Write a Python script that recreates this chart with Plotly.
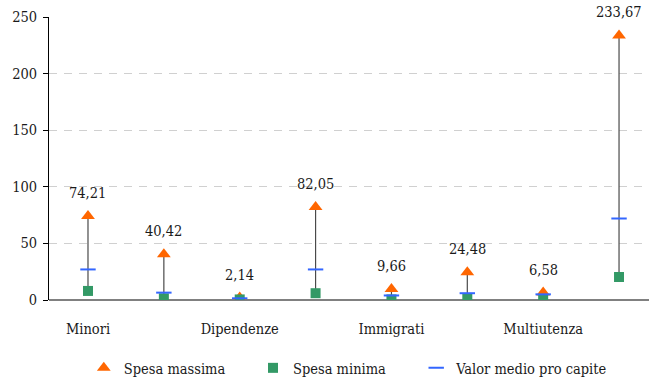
import plotly.graph_objects as go

# Per-capita spending by area (euro)
categories = ["Minori", "Disabili", "Dipendenze", "Anziani", "Immigrati",
              "Povertà", "Multiutenza", "Totale"]
spesa_massima = [74.21, 40.42, 2.14, 82.05, 9.66, 24.48, 6.58, 233.67]
spesa_minima = [8.0, 1.5, 0.5, 6.0, 0.5, 1.0, 0.5, 20.3]
valor_medio = [27.0, 6.5, 1.5, 27.0, 4.0, 6.0, 5.0, 72.0]
y_ticks = [0, 50, 100, 150, 200, 250]
shown_labels = ["Minori", "Dipendenze", "Immigrati", "Multiutenza"]

FONT = "DejaVu Serif Condensed"
FS = 14.5
idx = list(range(len(categories)))

fig = go.Figure()

# high-low connectors from minimum to maximum
lx, ly = [], []
for i, lo, hi in zip(idx, spesa_minima, spesa_massima):
    lx += [i, i, None]
    ly += [lo, hi, None]
fig.add_trace(go.Scatter(x=lx, y=ly, mode="lines", showlegend=False,
                         line=dict(color="#4a4a4a", width=1.2), hoverinfo="skip"))

fig.add_trace(go.Scatter(x=idx, y=spesa_massima, mode="markers", name="Spesa massima",
                         legend="legend",
                         marker=dict(symbol="triangle-up", size=12, color="#FF6600")))
fig.add_trace(go.Scatter(x=idx, y=spesa_minima, mode="markers", name="Spesa minima",
                         legend="legend2",
                         marker=dict(symbol="square", size=10, color="#339966")))
fig.add_trace(go.Scatter(x=idx, y=valor_medio, mode="markers", name="Valor medio pro capite",
                         legend="legend3",
                         marker=dict(symbol="line-ew", size=11,
                                     line=dict(color="#3366FF", width=2))))

# value labels above the maximum markers
for i, v in zip(idx, spesa_massima):
    fig.add_annotation(x=i, y=v, text=f"{v:.2f}".replace(".", ","), showarrow=False,
                       yshift=23, font=dict(family=FONT, size=FS, color="#1a1a1a"))

legend_style = dict(orientation="h", xanchor="left", y=-0.240, yanchor="middle",
                    font=dict(family=FONT, size=FS), itemwidth=30,
                    bgcolor="rgba(0,0,0,0)")

fig.update_layout(
    width=649, height=378,
    margin=dict(l=49, r=0, t=17, b=78, autoexpand=False),
    paper_bgcolor="white", plot_bgcolor="white",
    font=dict(family=FONT, size=FS, color="#1a1a1a"),
    legend=dict(x=0.058, **legend_style),
    legend2=dict(x=0.340, **legend_style),
    legend3=dict(x=0.612, **legend_style),
    xaxis=dict(range=[-0.514, 7.395], tickmode="array",
               tickvals=[categories.index(c) for c in shown_labels], ticktext=shown_labels,
               showgrid=False, zeroline=False, showline=False, ticks="",
               tickfont=dict(family=FONT, size=FS),
               ticklabelstandoff=18, automargin=False),
    yaxis=dict(range=[0, 250], tickvals=y_ticks, showgrid=True,
               gridcolor="#d0d0d0", griddash="8px,7px", gridwidth=1,
               zeroline=True, zerolinecolor="#808080", zerolinewidth=2,
               showline=True, linecolor="black", linewidth=1,
               ticks="outside", ticklen=5, tickcolor="black", ticklabelstandoff=3,
               tickfont=dict(family=FONT, size=FS), automargin=False),
)

fig.write_html("out.html")
